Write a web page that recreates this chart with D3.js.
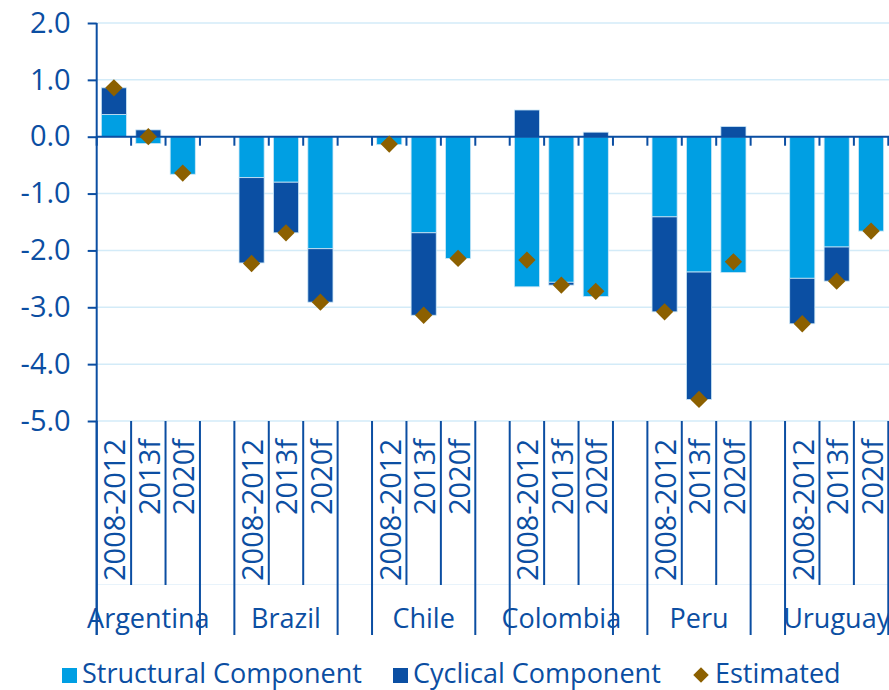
<!DOCTYPE html>
<html>
<head>
<meta charset="utf-8">
<script src="https://cdn.jsdelivr.net/npm/d3@7"></script>
<style>
  body { margin: 0; background: #fff; }
  text { font-family: "Open Sans", "Noto Sans", sans-serif; fill: #0b4ea2; }
</style>
</head>
<body>
<svg id="chart" width="889" height="690"></svg>
<script>
// values
const countries = ["Argentina", "Brazil", "Chile", "Colombia", "Peru", "Uruguay"];
const periods = ["2008-2012", "2013f", "2020f"];
// one entry per country/period, in order
const structural = [0.39, -0.12, -0.66,  -0.72, -0.80, -1.97,  -0.14, -1.69, -2.14,  -2.64, -2.56, -2.81,  -1.41, -2.38, -2.39,  -2.49, -1.94, -1.66];
const cyclical   = [0.47,  0.12,  0.00,  -1.50, -0.89, -0.94,   0.00, -1.45,  0.00,   0.47, -0.05,  0.08,  -1.67, -2.24,  0.18,  -0.80, -0.60,  0.00];
const estimated  = [0.86,  0.00, -0.64,  -2.23, -1.69, -2.91,  -0.13, -3.14, -2.14,  -2.17, -2.61, -2.72,  -3.08, -4.62, -2.20,  -3.29, -2.54, -1.66];
const yTicks = [2, 1, 0, -1, -2, -3, -4, -5];

const colStruct = "#009fe3", colCyc = "#0b4fa3", colEst = "#8c6000",
      textCol = "#0b4ea2", gridCol = "#d3ebf8";

const svg = d3.select("#chart");
const plotL = 96.7, plotR = 888.3, plotT = 23, plotB = 421;

// slot list: 3 periods per country + empty gap slot between countries
const slots = [];
const rows = [];
countries.forEach((c, ci) => {
    periods.forEach((p, pi) => {
        const i = ci * 3 + pi;
        slots.push(c + "|" + p);
        rows.push({ key: c + "|" + p, country: c, period: p,
                    structural: structural[i], cyclical: cyclical[i], estimated: estimated[i] });
    });
    if (ci < countries.length - 1) slots.push("gap" + ci);
});

const x = d3.scaleBand().domain(slots).range([plotL, plotR]).padding(0);
const y = d3.scaleLinear().domain([-5, 2]).range([plotB, plotT]);
const bw = x.bandwidth();
const barW = bw * 0.73;

// gridlines
svg.append("g").selectAll("line").data(yTicks).join("line")
    .attr("x1", plotL).attr("x2", 889)
    .attr("y1", d => y(d)).attr("y2", d => y(d))
    .attr("stroke", gridCol).attr("stroke-width", 1.5);

// faint line above country labels
svg.append("line").attr("x1", plotL).attr("x2", 889).attr("y1", 584.5).attr("y2", 584.5)
    .attr("stroke", "#e8f3fb").attr("stroke-width", 1);

// stacked bars (diverging)
const stack = d3.stack().keys(["structural", "cyclical"]).offset(d3.stackOffsetDiverging);
const series = stack(rows);
const colors = { structural: colStruct, cyclical: colCyc };

svg.append("g").selectAll("g").data(series).join("g")
    .attr("fill", d => colors[d.key])
    .selectAll("rect").data(d => d.filter(v => Math.abs(v[1] - v[0]) > 0.001)).join("rect")
    .attr("x", d => x(d.data.key) + (bw - barW) / 2)
    .attr("width", barW)
    .attr("y", d => y(Math.max(d[0], d[1])))
    .attr("height", d => Math.abs(y(d[0]) - y(d[1])))
    .attr("stroke", "#cde8f7").attr("stroke-width", 0.8);

// zero line with category ticks
svg.append("line").attr("x1", plotL).attr("x2", 889).attr("y1", y(0)).attr("y2", y(0))
    .attr("stroke", textCol).attr("stroke-width", 2);
const bounds = slots.map(s => x(s)).concat([plotR]);
svg.append("g").selectAll("line").data(bounds).join("line")
    .attr("x1", d => d).attr("x2", d => d)
    .attr("y1", y(0)).attr("y2", y(0) + 9)
    .attr("stroke", textCol).attr("stroke-width", 2);

// estimated diamonds
svg.append("g").selectAll("path").data(rows).join("path")
    .attr("d", d3.symbol(d3.symbolSquare, 150))
    .attr("transform", d => `translate(${x(d.key) + bw / 2},${y(d.estimated)}) rotate(45)`)
    .attr("fill", colEst);

// y axis (hyphen as minus sign, like the original)
const yAxis = svg.append("g").attr("transform", `translate(${plotL},0)`)
    .call(d3.axisLeft(y).tickValues(yTicks).tickFormat(d => d3.format(".1f")(d).replace("−", "-"))
        .tickSize(9).tickPadding(17));
yAxis.select(".domain").remove();
yAxis.selectAll("line").attr("stroke", textCol).attr("stroke-width", 2);
yAxis.selectAll("text").attr("font-size", 29).attr("fill", textCol)
    .style("font-family", '"Open Sans", "Noto Sans", sans-serif');
svg.append("line").attr("x1", plotL).attr("x2", plotL).attr("y1", plotT).attr("y2", 635)
    .attr("stroke", textCol).attr("stroke-width", 2);

// period labels and separators below plot
const catG = svg.append("g");
rows.forEach(d => {
    const x0 = x(d.key);
    catG.append("text")
        .attr("transform", `translate(${x0 + bw / 2 + 1},439) rotate(-90)`)
        .attr("text-anchor", "end").attr("dy", "0.36em")
        .attr("font-size", 29).text(d.period);
});
countries.forEach(c => {
    const first = x(c + "|" + periods[0]);
    const last = x(c + "|" + periods[2]) + bw;
    [first, last].forEach(v => catG.append("line")
        .attr("x1", v).attr("x2", v).attr("y1", plotB).attr("y2", 635)
        .attr("stroke", textCol).attr("stroke-width", 2));
    [1, 2].forEach(k => {
        const v = x(c + "|" + periods[k]);
        catG.append("line").attr("x1", v).attr("x2", v).attr("y1", plotB).attr("y2", 585)
            .attr("stroke", textCol).attr("stroke-width", 2);
    });
    catG.append("text").attr("x", (first + last) / 2).attr("y", 628)
        .attr("text-anchor", "middle").attr("font-size", 27).text(c);
});

// legend
const leg = svg.append("g");
leg.append("rect").attr("x", 62).attr("y", 668).attr("width", 15).attr("height", 15).attr("fill", colStruct);
leg.append("text").attr("x", 82).attr("y", 683).attr("font-size", 27).text("Structural Component");
leg.append("rect").attr("x", 393).attr("y", 668).attr("width", 15).attr("height", 15).attr("fill", colCyc);
leg.append("text").attr("x", 413).attr("y", 683).attr("font-size", 27).text("Cyclical Component");
leg.append("path").attr("d", d3.symbol(d3.symbolSquare, 120))
    .attr("transform", "translate(701,675) rotate(45)").attr("fill", colEst);
leg.append("text").attr("x", 715).attr("y", 683).attr("font-size", 27).text("Estimated");
</script>
</body>
</html>
